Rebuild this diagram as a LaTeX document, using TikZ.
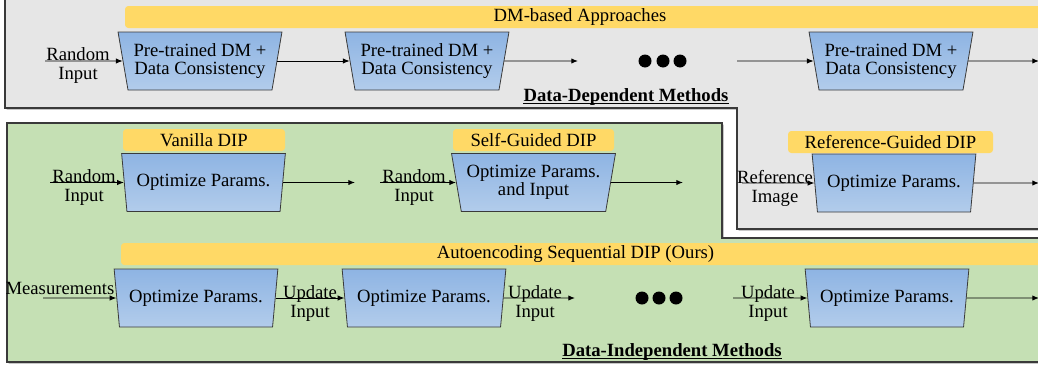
\documentclass[tikz,border=0pt]{standalone}
\usepackage{fontspec}
\setmainfont{Liberation Serif}
\usetikzlibrary{shapes.geometric,shadows,arrows.meta}
\definecolor{panelgray}{HTML}{E6E6E6}
\definecolor{panelgreen}{HTML}{C5E0B4}
\definecolor{bannerfill}{HTML}{FFD966}
\definecolor{blocktop}{HTML}{8EB4E3}
\definecolor{blockbot}{HTML}{B2CCEB}
\definecolor{edgecol}{HTML}{3A3A3A}

\begin{document}
\begin{tikzpicture}[x=0.75pt,y=-0.75pt,
  font=\fontsize{14}{13}\selectfont,
  panel/.style={draw=edgecol, line width=0.9pt,
    drop shadow={shadow xshift=1.2pt, shadow yshift=-1.2pt, opacity=0.6, fill=black!55}},
  block/.style={trapezium, shape border rotate=180, trapezium angle=76,
    trapezium stretches=true, minimum width=123pt, minimum height=43.5pt,
    inner sep=1pt, draw=edgecol, line width=0.6pt,
    top color=blocktop, bottom color=blockbot, align=center,
    font=\fontsize{14}{13.5}\selectfont},
  banner/.style={fill=bannerfill, rounded corners=2.5pt, inner sep=0pt, minimum height=16.5pt},
  flow/.style={-{Latex[length=5pt,width=4pt]}, line width=0.7pt, draw=black},
  lbl/.style={align=center, inner sep=0pt, font=\fontsize{14}{14.25}\selectfont},
  dot/.style={circle, fill=black, inner sep=0pt, minimum size=9.75pt},
  heading/.style={font=\fontsize{14}{14}\selectfont\bfseries, inner sep=0pt},
  rulebar/.style={line width=0.8pt, draw=black}
]
\useasboundingbox (0,0) rectangle (1038,368);
\clip (0,0) rectangle (1038,368);

% panels: data-dependent (grey, L-shaped) and data-independent (green)
\path[panel, fill=panelgray] (5,-10) -- (5,108) -- (737,108) -- (737,229)
  -- (1060,229) -- (1060,-10) -- cycle;
\path[panel, fill=panelgreen] (7,123) -- (722,123) -- (722,238)
  -- (1060,238) -- (1060,362) -- (7,362) -- cycle;

% banners
\node[banner, minimum width=701.25pt] (dmBar) at (592.5,17) {};
\node[inner sep=0pt] (dmTitle) at (580,17) {DM-based Approaches};
\node[banner, minimum width=121.5pt] (vanBar) at (204,140) {Vanilla DIP};
\node[banner, minimum width=120.75pt] (sgBar) at (533.5,140) {Self-Guided DIP};
\node[banner, minimum width=153.75pt] (rgBar) at (890.5,142) {Reference-Guided DIP};
\node[banner, minimum width=704.25pt] (aeBar) at (590.5,254) {};
\node[inner sep=0pt] (aeTitle) at (575.5,254) {Autoencoding Sequential DIP (Ours)};

% row 1: diffusion-model pipeline
\node[block] (dm1) at (200,61) {Pre-trained DM +\\Data Consistency};
\node[block] (dm2) at (427,61) {Pre-trained DM +\\Data Consistency};
\node[block] (dm3) at (891,61) {Pre-trained DM +\\Data Consistency};
\node[dot] (dmDotA) at (645,61) {};
\node[dot] (dmDotB) at (663,61) {};
\node[dot] (dmDotC) at (680,61) {};
\coordinate (dmIn) at (45,61);
\coordinate (dmGapA) at (578,61);
\coordinate (dmGapB) at (737,61);
\coordinate (dmOut) at (1039,61);
\draw[flow] (dmIn) -- (dm1.west);
\node[lbl] (dmInLbl) at (78,66) {Random\\Input};
\draw[flow] (dm1.east) -- (dm2.west);
\draw[flow] (dm2.east) -- (dmGapA);
\draw[flow] (dmGapB) -- (dm3.west);
\draw[flow] (dm3.east) -- (dmOut);
\node[heading] (depHead) at (626,97) {Data-Dependent Methods};
\draw[rulebar] ([yshift=-1.6pt]depHead.base west) -- ([yshift=-1.6pt]depHead.base east);

% row 2: single-stage DIP variants
\node[block] (van) at (203.5,182.5) {Optimize Params.};
\node[block] (sg) at (533.5,182.5) {Optimize Params.\\and Input};
\node[block] (rg) at (894,183) {Optimize Params.};
\coordinate (vanIn) at (50,182.5);
\coordinate (vanOut) at (355,182.5);
\coordinate (sgIn) at (380,182.5);
\coordinate (sgOut) at (683,182.5);
\coordinate (rgIn) at (742,183);
\coordinate (rgOut) at (1039,183);
\draw[flow] (vanIn) -- (van.west);
\draw[flow] (van.east) -- (vanOut);
\draw[flow] (sgIn) -- (sg.west);
\draw[flow] (sg.east) -- (sgOut);
\draw[flow] (rgIn) -- (rg.west);
\draw[flow] (rg.east) -- (rgOut);
\node[lbl] (vanLbl) at (84,187.5) {Random\\Input};
\node[lbl] (sgLbl) at (414,187.5) {Random\\Input};
\node[lbl] (rgLbl) at (775,188) {Reference\\Image};

% row 3: autoencoding sequential DIP
\node[block] (ae1) at (196,298) {Optimize Params.};
\node[block] (ae2) at (424,298) {Optimize Params.};
\node[block] (ae3) at (887,298) {Optimize Params.};
\node[dot] (aeDotA) at (642,298) {};
\node[dot] (aeDotB) at (659,298) {};
\node[dot] (aeDotC) at (676,298) {};
\coordinate (aeIn) at (43,298);
\coordinate (aeGapA) at (575,298);
\coordinate (aeGapB) at (733,298);
\coordinate (aeOut) at (1039,298);
\node[lbl] (measLbl) at (60,288) {Measurements};
\draw[flow] (aeIn) -- (ae1.west);
\draw[flow] (ae1.east) -- (ae2.west);
\node[lbl] (upLblA) at (310,304) {Update\\Input};
\draw[flow] (ae2.east) -- (aeGapA);
\node[lbl] (upLblB) at (535,304) {Update\\Input};
\draw[flow] (aeGapB) -- (ae3.west);
\node[lbl] (upLblC) at (768,304) {Update\\Input};
\draw[flow] (ae3.east) -- (aeOut);
\node[heading] (indepHead) at (672,352) {Data-Independent Methods};
\draw[rulebar] ([yshift=-1.6pt]indepHead.base west) -- ([yshift=-1.6pt]indepHead.base east);
\end{tikzpicture}
\end{document}
